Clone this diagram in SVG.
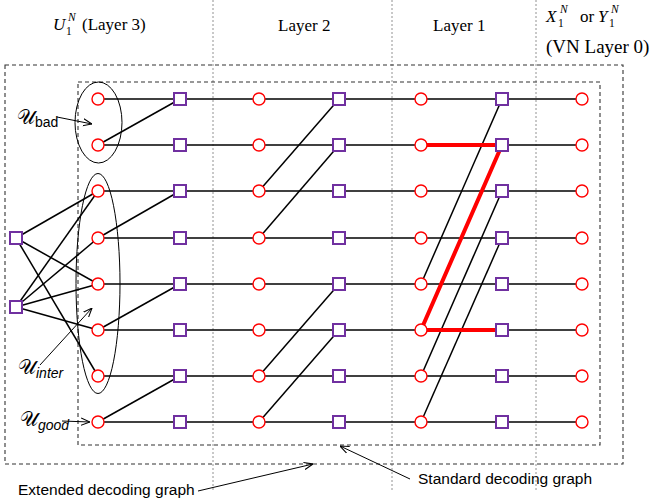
<svg xmlns="http://www.w3.org/2000/svg" width="652" height="504" viewBox="0 0 652 504">
<defs>
<style>
.hdr{font-family:"Liberation Serif","Times New Roman",serif;font-size:17px;fill:#000}
.it{font-style:italic}
.sm{font-size:11.5px}
.big{font-size:19px}
.lbl{font-family:"Liberation Sans",Arial,sans-serif;font-size:15.5px;fill:#000}
.cal{font-family:"DejaVu Serif","DejaVu Sans","Liberation Serif",serif;font-size:20px;fill:#000}
.sub{font-family:"Liberation Sans",Arial,sans-serif;font-size:14px;fill:#000}
.vn{fill:#fff;stroke:#ff0000;stroke-width:1.4}
.cn{fill:#fff;stroke:#7030a0;stroke-width:2}
.e{stroke:#000;stroke-width:1.5;fill:none}
.red{stroke:#ff0000;stroke-width:4;fill:none}
.dot{stroke:#777;stroke-width:0.8;stroke-dasharray:2,2;fill:none}
.dash{stroke:#333;stroke-width:1.1;stroke-dasharray:4,3;fill:none}
.thin{stroke:#000;stroke-width:1;fill:none}
</style>
<marker id="ah" viewBox="0 0 10 10" refX="10" refY="5" markerWidth="9" markerHeight="9" orient="auto" markerUnits="userSpaceOnUse">
<path d="M0,1 L10,5 L0,9" fill="none" stroke="#000" stroke-width="1.2"/>
</marker>
</defs>
<rect width="652" height="504" fill="#fff"/>

<g id="frames">
<line class="dot" x1="213" y1="0" x2="213" y2="490"/>
<line class="dot" x1="392" y1="0" x2="392" y2="490"/>
<line class="dot" x1="536" y1="0" x2="536" y2="490"/>
<rect class="dash" x="5" y="65" width="618" height="399"/>
<rect class="dash" x="78" y="82" width="522" height="363"/>
</g>

<g id="headers">
<text class="hdr it" x="53" y="30">U</text>
<text class="hdr sm" x="66" y="35">1</text>
<text class="hdr sm it" x="68" y="21">N</text>
<text class="hdr" x="82" y="30">(Layer 3)</text>
<text class="hdr" x="278" y="31">Layer 2</text>
<text class="hdr" x="433" y="31">Layer 1</text>
<text class="hdr it" x="546" y="22">X</text>
<text class="hdr sm" x="558" y="27">1</text>
<text class="hdr sm it" x="560" y="13">N</text>
<text class="hdr" x="580" y="22">or</text>
<text class="hdr it" x="598" y="22">Y</text>
<text class="hdr sm" x="609" y="27">1</text>
<text class="hdr sm it" x="611" y="13">N</text>
<text class="hdr big" x="546" y="53">(VN Layer 0)</text>
</g>

<g id="connectors">
<line class="e" x1="98" y1="99" x2="582" y2="99"/>
<line class="e" x1="98" y1="145" x2="582" y2="145"/>
<line class="e" x1="98" y1="191" x2="582" y2="191"/>
<line class="e" x1="98" y1="238" x2="582" y2="238"/>
<line class="e" x1="98" y1="284" x2="582" y2="284"/>
<line class="e" x1="98" y1="330" x2="582" y2="330"/>
<line class="e" x1="98" y1="376" x2="582" y2="376"/>
<line class="e" x1="98" y1="422" x2="582" y2="422"/>
<line class="e" x1="98" y1="145" x2="180" y2="99"/>
<line class="e" x1="98" y1="238" x2="180" y2="191"/>
<line class="e" x1="98" y1="330" x2="180" y2="284"/>
<line class="e" x1="98" y1="422" x2="180" y2="376"/>
<line class="e" x1="259" y1="191" x2="339" y2="99"/>
<line class="e" x1="259" y1="238" x2="339" y2="145"/>
<line class="e" x1="259" y1="376" x2="339" y2="284"/>
<line class="e" x1="259" y1="422" x2="339" y2="330"/>
<line class="e" x1="421" y1="284" x2="502" y2="99"/>
<line class="e" x1="421" y1="376" x2="502" y2="191"/>
<line class="e" x1="421" y1="422" x2="502" y2="238"/>
<line class="e" x1="16" y1="238" x2="98" y2="191"/>
<line class="e" x1="16" y1="238" x2="98" y2="284"/>
<line class="e" x1="16" y1="238" x2="98" y2="376"/>
<line class="e" x1="16" y1="307" x2="98" y2="191"/>
<line class="e" x1="16" y1="307" x2="98" y2="238"/>
<line class="e" x1="16" y1="307" x2="98" y2="284"/>
<line class="e" x1="16" y1="307" x2="98" y2="330"/>
<polyline class="red" points="421,145 502,145 421,330 502,330"/>
<ellipse class="thin" cx="98.5" cy="122.5" rx="23.5" ry="40.5"/>
<ellipse class="thin" cx="98" cy="283.5" rx="22" ry="110"/>
<line class="thin" x1="57" y1="117" x2="92" y2="124" marker-end="url(#ah)"/>
<line class="thin" x1="40" y1="365" x2="92" y2="308" marker-end="url(#ah)"/>
<line class="thin" x1="62" y1="421" x2="90" y2="422" marker-end="url(#ah)"/>
<line class="thin" x1="198" y1="491" x2="313" y2="464" marker-end="url(#ah)"/>
<line class="thin" x1="410" y1="479" x2="340" y2="446" marker-end="url(#ah)"/>
</g>

<g id="vn0">
<circle class="vn" cx="98" cy="99" r="6"/><circle class="vn" cx="98" cy="145" r="6"/>
<circle class="vn" cx="98" cy="191" r="6"/><circle class="vn" cx="98" cy="238" r="6"/>
<circle class="vn" cx="98" cy="284" r="6"/><circle class="vn" cx="98" cy="330" r="6"/>
<circle class="vn" cx="98" cy="376" r="6"/><circle class="vn" cx="98" cy="422" r="6"/>
</g>
<g id="cn1">
<rect class="cn" x="174" y="93" width="12" height="12"/><rect class="cn" x="174" y="139" width="12" height="12"/>
<rect class="cn" x="174" y="185" width="12" height="12"/><rect class="cn" x="174" y="232" width="12" height="12"/>
<rect class="cn" x="174" y="278" width="12" height="12"/><rect class="cn" x="174" y="324" width="12" height="12"/>
<rect class="cn" x="174" y="370" width="12" height="12"/><rect class="cn" x="174" y="416" width="12" height="12"/>
</g>
<g id="vn2">
<circle class="vn" cx="259" cy="99" r="6"/><circle class="vn" cx="259" cy="145" r="6"/>
<circle class="vn" cx="259" cy="191" r="6"/><circle class="vn" cx="259" cy="238" r="6"/>
<circle class="vn" cx="259" cy="284" r="6"/><circle class="vn" cx="259" cy="330" r="6"/>
<circle class="vn" cx="259" cy="376" r="6"/><circle class="vn" cx="259" cy="422" r="6"/>
</g>
<g id="cn3">
<rect class="cn" x="333" y="93" width="12" height="12"/><rect class="cn" x="333" y="139" width="12" height="12"/>
<rect class="cn" x="333" y="185" width="12" height="12"/><rect class="cn" x="333" y="232" width="12" height="12"/>
<rect class="cn" x="333" y="278" width="12" height="12"/><rect class="cn" x="333" y="324" width="12" height="12"/>
<rect class="cn" x="333" y="370" width="12" height="12"/><rect class="cn" x="333" y="416" width="12" height="12"/>
</g>
<g id="vn4">
<circle class="vn" cx="421" cy="99" r="6"/><circle class="vn" cx="421" cy="145" r="6"/>
<circle class="vn" cx="421" cy="191" r="6"/><circle class="vn" cx="421" cy="238" r="6"/>
<circle class="vn" cx="421" cy="284" r="6"/><circle class="vn" cx="421" cy="330" r="6"/>
<circle class="vn" cx="421" cy="376" r="6"/><circle class="vn" cx="421" cy="422" r="6"/>
</g>
<g id="cn5">
<rect class="cn" x="496" y="93" width="12" height="12"/><rect class="cn" x="496" y="139" width="12" height="12"/>
<rect class="cn" x="496" y="185" width="12" height="12"/><rect class="cn" x="496" y="232" width="12" height="12"/>
<rect class="cn" x="496" y="278" width="12" height="12"/><rect class="cn" x="496" y="324" width="12" height="12"/>
<rect class="cn" x="496" y="370" width="12" height="12"/><rect class="cn" x="496" y="416" width="12" height="12"/>
</g>
<g id="vn6">
<circle class="vn" cx="582" cy="99" r="6"/><circle class="vn" cx="582" cy="145" r="6"/>
<circle class="vn" cx="582" cy="191" r="6"/><circle class="vn" cx="582" cy="238" r="6"/>
<circle class="vn" cx="582" cy="284" r="6"/><circle class="vn" cx="582" cy="330" r="6"/>
<circle class="vn" cx="582" cy="376" r="6"/><circle class="vn" cx="582" cy="422" r="6"/>
</g>
<g id="ext-cn">
<rect class="cn" x="10" y="232" width="12" height="12"/>
<rect class="cn" x="10" y="301" width="12" height="12"/>
</g>

<g id="labels">
<text x="17" y="124"><tspan class="cal">𝒰</tspan><tspan class="sub" dy="3">bad</tspan></text>
<text x="18" y="374"><tspan class="cal">𝒰</tspan><tspan class="sub it" dy="4">inter</tspan></text>
<text x="20" y="426"><tspan class="cal">𝒰</tspan><tspan class="sub it" dy="4">good</tspan></text>
<text class="lbl" x="18" y="495">Extended decoding graph</text>
<text class="lbl" x="418" y="484">Standard decoding graph</text>
</g>
</svg>
